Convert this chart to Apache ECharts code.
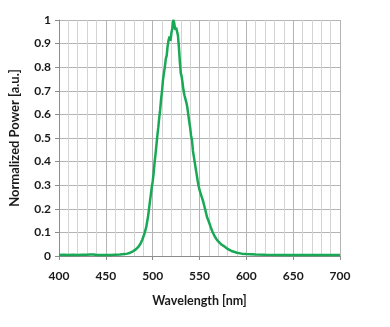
<!DOCTYPE html>
<html>
<head>
<meta charset="utf-8">
<script src="https://cdn.jsdelivr.net/npm/echarts@6/dist/echarts.min.js"></script>
<style>
html,body{margin:0;padding:0;background:#fff;}
#c{width:390px;height:327px;}
</style>
</head>
<body>
<div id="c"></div>
<script>
const wavelengths = [400,405,410,415,420,425,430,433,435,437,440,445,450,455,460,465,470,473,476,479,482,485,487,489,491,493,495,497,499,500,501,502,503,504,505,506,507,508,509,510,511,512,513,514,515,516,517,518,519,520,521,522,523,524,525,526,527,528,529,530,531,532,533,534,535,536,537,538,539,540,541,542,543,544,545,546,547,548,549,550,552,554,556,558,560,562,564,566,568,570,573,576,580,585,590,595,600,610,620,640,660,680,700];
const power = [0.004,0.005,0.004,0.005,0.004,0.005,0.005,0.006,0.012,0.006,0.004,0.004,0.004,0.004,0.005,0.006,0.008,0.010,0.014,0.020,0.028,0.040,0.052,0.070,0.092,0.120,0.165,0.228,0.290,0.315,0.350,0.395,0.430,0.470,0.510,0.545,0.585,0.620,0.665,0.700,0.745,0.775,0.800,0.835,0.850,0.890,0.915,0.930,0.912,0.945,0.965,1.000,0.988,0.958,0.968,0.962,0.935,0.885,0.825,0.775,0.760,0.730,0.700,0.680,0.665,0.650,0.630,0.600,0.570,0.545,0.510,0.490,0.445,0.420,0.395,0.370,0.345,0.320,0.298,0.280,0.255,0.230,0.198,0.165,0.145,0.122,0.102,0.085,0.072,0.062,0.050,0.042,0.030,0.020,0.014,0.010,0.008,0.006,0.005,0.004,0.004,0.004,0.004];
const xTitle = 'Wavelength [nm]';
const yTitle = 'Normalized Power [a.u.]';

const data = wavelengths.map((w, i) => [w, power[i]]);
const font = 'Lato, "Open Sans", sans-serif';
const chart = echarts.init(document.getElementById('c'), null, {renderer: 'canvas'});
chart.setOption({
  animation: false,
  backgroundColor: '#fff',
  grid: {left: 50, right: 50, top: 20, bottom: 71},
  xAxis: {
    type: 'value', min: 400, max: 700, interval: 50,
    name: xTitle, nameLocation: 'middle', nameGap: 38,
    nameTextStyle: {fontFamily: font, fontWeight: 'bold', fontSize: 12.5, color: '#1a1a1a'},
    axisLine: {show: true, lineStyle: {color: '#8c8c8c', width: 1}},
    axisTick: {show: true, length: 4, lineStyle: {color: '#8c8c8c'}},
    axisLabel: {fontFamily: font, fontWeight: 'bold', fontSize: 12, color: '#1a1a1a', margin: 14},
    splitLine: {show: true, lineStyle: {color: '#b4b4b4', width: 1}},
    minorTick: {show: false, splitNumber: 5},
    minorSplitLine: {show: true, lineStyle: {color: '#d4d4d4', width: 1}}
  },
  yAxis: {
    type: 'value', min: 0, max: 1, interval: 0.1,
    name: yTitle, nameLocation: 'middle', nameGap: 38, nameRotate: 90,
    nameTextStyle: {fontFamily: font, fontWeight: 'bold', fontSize: 13, color: '#1a1a1a'},
    axisLine: {show: true, lineStyle: {color: '#8c8c8c', width: 1}},
    axisTick: {show: true, length: 4, lineStyle: {color: '#8c8c8c'}},
    axisLabel: {fontFamily: font, fontWeight: 'bold', fontSize: 12, color: '#1a1a1a', margin: 8,
      formatter: v => (v === 0 || v === 1) ? String(v) : v.toFixed(1)},
    splitLine: {show: true, lineStyle: {color: '#b4b4b4', width: 1}}
  },
  series: [{
    type: 'line', data: data, showSymbol: false, symbol: 'none',
    lineStyle: {color: '#19a856', width: 2.5},
    itemStyle: {color: '#19a856'}
  }]
});
</script>
</body>
</html>
